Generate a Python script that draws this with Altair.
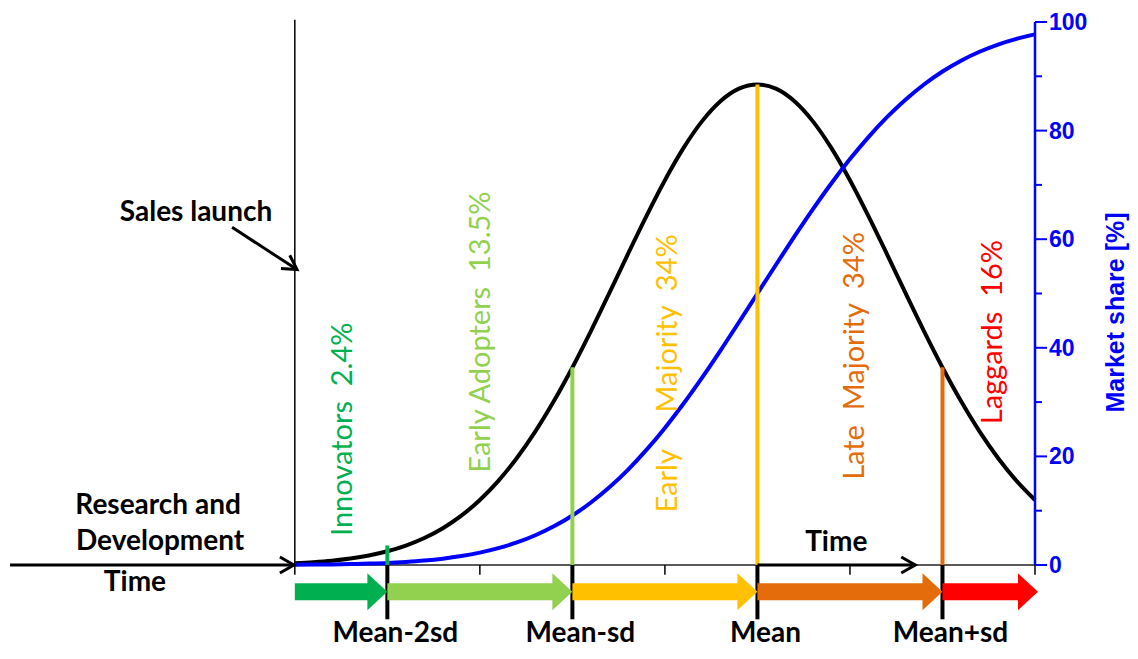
import altair as alt
import pandas as pd

# ---------------- data (x in units of the category standard deviation, Mean = 0) -------------
curve_x = [-2.5, -2.4, -2.3, -2.2, -2.1, -2.0, -1.9, -1.8, -1.7, -1.6, -1.5, -1.4, -1.3, -1.2,
           -1.1, -1.0, -0.9, -0.8, -0.7, -0.6, -0.5, -0.4, -0.3, -0.2, -0.1, 0.0, 0.1, 0.2,
           0.3, 0.4, 0.5, 0.6, 0.7, 0.8, 0.9, 1.0, 1.1, 1.2, 1.3, 1.4, 1.5]
adoption = [0.34, 0.53, 0.80, 1.20, 1.76, 2.53, 3.58, 4.97, 6.78, 9.09, 11.98, 15.50, 19.71,
            24.61, 30.19, 36.38, 43.08, 50.10, 57.25, 64.26, 70.87, 76.77, 81.70, 85.41, 87.72,
            88.50, 87.72, 85.41, 81.70, 76.77, 70.87, 64.26, 57.25, 50.10, 43.08, 36.38, 30.19,
            24.61, 19.71, 15.50, 11.98]
market_share = [0.04, 0.07, 0.11, 0.17, 0.26, 0.38, 0.57, 0.82, 1.17, 1.65, 2.28, 3.10, 4.15,
                5.48, 7.12, 9.12, 11.51, 14.31, 17.53, 21.19, 25.25, 29.69, 34.46, 39.49, 44.70,
                50.00, 55.30, 60.51, 65.54, 70.31, 74.75, 78.81, 82.47, 85.69, 88.49, 90.88,
                92.88, 94.52, 95.85, 96.90, 97.72]

boundary_x = [-2.0, -1.0, 0.0, 1.0]
boundary_top = [3.6, 36.4, 88.5, 36.4]
boundary_colors = ["#00B050", "#92D050", "#FFC000", "#E46C0A"]
boundary_labels = ["Mean-2sd", "Mean-sd", "Mean", "Mean+sd"]

minor_tick_x = [-2.5, -1.5, -0.5, 0.5, 1.5]

segment_start = [-2.5, -2.0, -1.0, 0.0, 1.0]
segment_end = [-2.0, -1.0, 0.0, 1.0, 1.516]
segment_colors = ["#00B050", "#92D050", "#FFC000", "#E46C0A", "#FF0000"]

group_text = ["Innovators\u00a0\u00a02.4%", "Early Adopters\u00a0\u00a013.5%", "Majority\u00a0\u00a034%",
              "Early", "Late\u00a0\u00a0Majority\u00a0\u00a034%", "Laggards\u00a0\u00a016%"]
group_x = [-2.239, -1.493, -0.485, -0.485, 0.528, 1.274]
group_y = [25.0, 42.9, 44.5, 15.5, 38.5, 42.9]
group_colors = ["#00B050", "#92D050", "#FFC000", "#FFC000", "#E46C0A", "#FF0000"]

note_text = ["Sales launch", "Research and", "Development", "Time", "Time"]
note_x = [-3.034, -3.239, -3.228, -3.364, 0.426]
note_y = [64.8, 10.95, 4.2, -3.28, 4.0]

arrow_x = [-4.039, -2.839, 0.0]
arrow_x2 = [-2.505, -2.488, 0.853]
arrow_y = [0.0, 62.2, 0.0]
arrow_y2 = [0.0, 54.4, 0.0]
arrow_angle = [0, 33.5, 0]

share_ticks = [0, 20, 40, 60, 80, 100]
share_minor = [10, 30, 50, 70, 90]
share_title = "Market share [%]"

BLUE = "#0000FF"
xscale = alt.Scale(domain=[-4.05, 1.5], nice=False, zero=False)
yscale = alt.Scale(domain=[0, 100], nice=False, zero=False)


def X(f):
    return alt.X(f, type="quantitative", scale=xscale, axis=None)


def Y(f):
    return alt.Y(f, type="quantitative", scale=yscale, axis=None)


curves = pd.DataFrame({"x": curve_x, "adoption": adoption, "share": market_share})
bounds = pd.DataFrame({"x": boundary_x, "top": boundary_top, "color": boundary_colors,
                       "label": boundary_labels, "zero": 0.0, "low": -10.0, "lab_y": -14.1})
minors = pd.DataFrame({"x": minor_tick_x, "zero": 0.0, "low": -1.8})
segs = pd.DataFrame({"x": segment_start, "x2": segment_end, "color": segment_colors, "y": -4.93})
groups = pd.DataFrame({"text": group_text, "x": group_x, "y": group_y, "color": group_colors})
notes = pd.DataFrame({"text": note_text, "x": note_x, "y": note_y})
arrows = pd.DataFrame({"x": arrow_x, "x2": arrow_x2, "y": arrow_y, "y2": arrow_y2,
                       "angle": arrow_angle})
axis_df = pd.DataFrame({"x": [-2.5], "x2": [1.5], "y": [0.0], "top": [100.4]})
raxis = pd.DataFrame({"x": [1.5], "y": [0.0], "top": [100.0], "title": [share_title],
                      "ty": [46.5]})
rmajor = pd.DataFrame({"x": [1.5] * len(share_ticks), "y": share_ticks,
                       "label": [str(v) for v in share_ticks]})
rminor = pd.DataFrame({"x": [1.5] * len(share_minor), "y": share_minor})

bell = alt.Chart(curves).mark_line(color="black", strokeWidth=4, interpolate="monotone").encode(
    x=X("x"), y=Y("adoption"))
share = alt.Chart(curves).mark_line(color=BLUE, strokeWidth=4, interpolate="monotone").encode(
    x=X("x"), y=Y("share"))

launch_line = alt.Chart(axis_df).mark_rule(color="black", strokeWidth=1.5).encode(
    x=X("x"), y=Y("y"), y2="top")
base_line = alt.Chart(axis_df).mark_rule(color="#222222", strokeWidth=1.5).encode(
    x=X("x"), x2="x2", y=Y("y"))

arrow_shafts = alt.Chart(arrows).mark_rule(color="black", strokeWidth=3).encode(
    x=X("x"), x2="x2", y=Y("y"), y2="y2")
arrow_heads = alt.Chart(arrows).mark_point(
    shape="M-1,-0.57L0,0L-1,0.57", filled=False, size=784, strokeWidth=3, color="black",
    opacity=1).encode(x=X("x2"), y=Y("y2"), angle=alt.Angle("angle:Q", scale=None))

bound_lines = alt.Chart(bounds).mark_rule(strokeWidth=4).encode(
    x=X("x"), y=Y("zero"), y2="top", color=alt.Color("color:N", scale=None))
major_ticks = alt.Chart(bounds).mark_rule(color="black", strokeWidth=4).encode(
    x=X("x"), y=Y("zero"), y2="low")
minor_ticks = alt.Chart(minors).mark_rule(color="black", strokeWidth=1.5).encode(
    x=X("x"), y=Y("zero"), y2="low")

seg_shafts = alt.Chart(segs).mark_rule(strokeWidth=17, x2Offset=-19, strokeCap="butt").encode(
    x=X("x"), x2="x2", y=Y("y"), color=alt.Color("color:N", scale=None))
seg_heads = alt.Chart(segs).mark_point(
    shape="M-0.54,-1L0.54,0L-0.54,1Z", filled=True, size=1369, xOffset=-10, opacity=1).encode(
    x=X("x2"), y=Y("y"), color=alt.Color("color:N", scale=None))

bound_text = alt.Chart(bounds).mark_text(
    font="Lato", fontWeight="bold", fontSize=28, color="black", baseline="alphabetic",
    align="center", dx=8).encode(x=X("x"), y=Y("lab_y"), text="label")

group_labels = alt.Chart(groups).mark_text(
    font="Lato", fontSize=29, angle=270, align="center", baseline="middle").encode(
    x=X("x"), y=Y("y"), text="text", color=alt.Color("color:N", scale=None))

note_labels = alt.Chart(notes).mark_text(
    font="Lato", fontWeight="bold", fontSize=28, color="black", align="center",
    baseline="middle").encode(x=X("x"), y=Y("y"), text="text")

# right-hand "Market share" axis
r_domain = alt.Chart(raxis).mark_rule(color=BLUE, strokeWidth=2.5).encode(
    x=X("x"), y=Y("y"), y2="top")
r_major = alt.Chart(rmajor).mark_tick(
    orient="horizontal", size=12, thickness=2, color=BLUE, xOffset=6, opacity=1).encode(
    x=X("x"), y=Y("y"))
r_minor = alt.Chart(rminor).mark_tick(
    orient="horizontal", size=7, thickness=2, color=BLUE, xOffset=3.5, opacity=1).encode(
    x=X("x"), y=Y("y"))
r_labels = alt.Chart(rmajor).mark_text(
    font="Liberation Sans", fontWeight="bold", fontSize=23, color=BLUE, align="left",
    baseline="middle", dx=14, dy=1).encode(x=X("x"), y=Y("y"), text="label")
r_title = alt.Chart(raxis).mark_text(
    font="Liberation Sans", fontWeight="bold", fontSize=25, color=BLUE, align="center",
    baseline="middle", angle=270, xOffset=81).encode(x=X("x"), y=Y("ty"), text="title")

chart = alt.layer(
    bell, launch_line, base_line, share, bound_lines, major_ticks, minor_ticks,
    seg_shafts, seg_heads, arrow_shafts, arrow_heads,
    r_domain, r_major, r_minor, r_labels, r_title,
    bound_text, group_labels, note_labels,
).properties(
    width=1027, height=543,
    padding={"left": 0, "top": 14, "right": 95, "bottom": 85},
    autosize=alt.AutoSizeParams(type="none"),
).configure_view(stroke=None)

chart.save("out.html", embed_options={"renderer": "svg", "actions": False})
